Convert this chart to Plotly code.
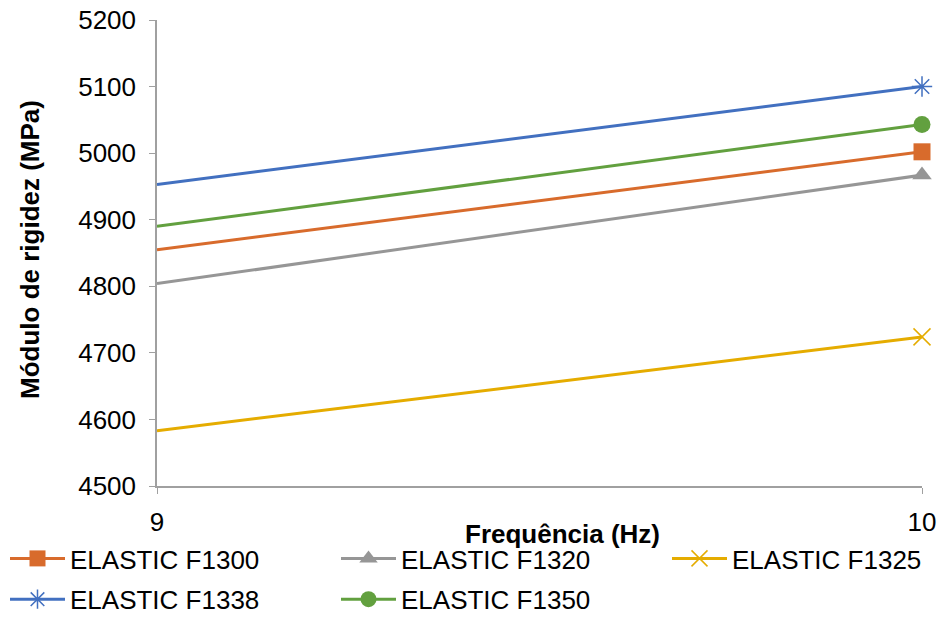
import plotly.graph_objects as go

freq = [9, 10]
series_names = ["ELASTIC F1300", "ELASTIC F1320", "ELASTIC F1325", "ELASTIC F1338", "ELASTIC F1350"]
f1300 = [4855, 5002]
f1320 = [4804, 4967]
f1325 = [4583, 4724]
f1338 = [4953, 5100]
f1350 = [4890, 5043]

values = [f1300, f1320, f1325, f1338, f1350]
colors = ["#D86B2C", "#969696", "#E5AC00", "#4270C0", "#62A03F"]
symbols = ["square", "triangle-up", "x-thin-open", "asterisk-open", "circle"]
legend_ids = ["legend", "legend2", "legend3", "legend", "legend2"]

x_title = "Frequência (Hz)"
y_title = "Módulo de rigidez (MPa)"

FONT = "Liberation Sans, Arial, sans-serif"

fig = go.Figure()
for name, vals, col, sym, lg in zip(series_names, values, colors, symbols, legend_ids):
    fig.add_trace(go.Scatter(
        x=freq, y=vals, name=name, mode="lines",
        line=dict(color=col, width=3), showlegend=False, cliponaxis=False,
        hoverinfo="skip",
    ))
    fig.add_trace(go.Scatter(
        x=freq[1:], y=vals[1:], name=name, mode="lines+markers",
        line=dict(color=col, width=3), cliponaxis=False,
        legend=lg, legendgroup=name,
        marker=dict(symbol=sym, size=17, color=col,
                    line=dict(color=col, width=1.5 if "open" in sym else 0)),
    ))

legend_top = (617 - 535) / 617


def leg(xpx):
    return dict(
        orientation="v", xref="container", yref="container",
        x=xpx / 942, xanchor="left", y=legend_top, yanchor="top",
        bgcolor="white", font=dict(size=26, family=FONT),
        itemwidth=55, tracegroupgap=4,
    )


fig.update_layout(
    width=942, height=617,
    margin=dict(l=157, r=20, t=20, b=131, autoexpand=False),
    paper_bgcolor="white", plot_bgcolor="white",
    font=dict(family=FONT, size=26, color="black"),
    showlegend=True,
    legend=leg(5), legend2=leg(336), legend3=leg(667),
    xaxis=dict(
        range=[9, 10], tickvals=[9, 10], ticktext=["9", "10"],
        showline=True, linecolor="#A0A0A0", linewidth=1.5,
        ticks="outside", ticklen=6, tickcolor="#A0A0A0",
        showgrid=False, zeroline=False,
        tickfont=dict(size=26), ticklabelstandoff=6,
    ),
    yaxis=dict(
        range=[4500, 5200], tickvals=[4500, 4600, 4700, 4800, 4900, 5000, 5100, 5200],
        showline=True, linecolor="#A0A0A0", linewidth=1.5,
        ticks="outside", ticklen=6, tickcolor="#A0A0A0",
        showgrid=False, zeroline=False,
        tickfont=dict(size=26), ticklabelstandoff=8,
    ),
    annotations=[
        dict(text="<b>" + x_title + "</b>", xref="paper", yref="paper",
             x=(562 - 157) / 765, y=(486 - 534) / 466, xanchor="center", yanchor="middle",
             showarrow=False, font=dict(size=26, family=FONT, color="black")),
        dict(text="<b>" + y_title + "</b>", xref="paper", yref="paper",
             x=(30 - 157) / 765, y=(486 - 250) / 466, xanchor="center", yanchor="middle",
             textangle=-90, showarrow=False, font=dict(size=26, family=FONT, color="black")),
    ],
)

fig.write_html("out.html")
